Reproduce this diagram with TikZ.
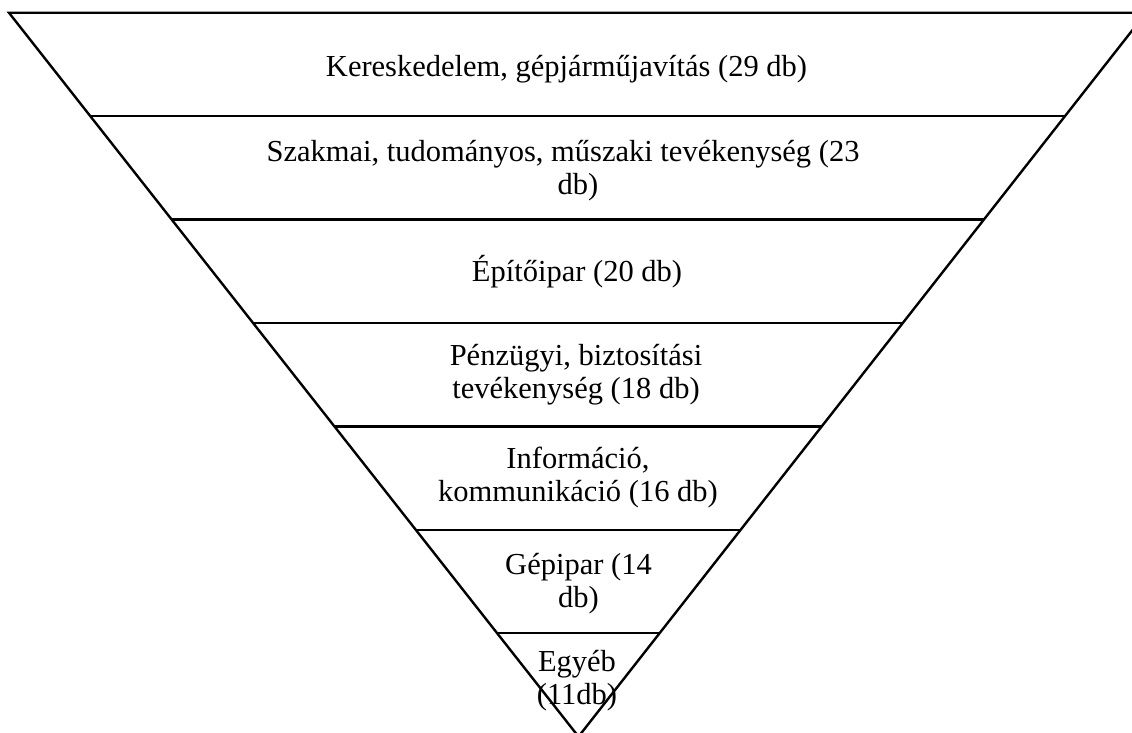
\documentclass[tikz,border=0pt]{standalone}
\usepackage{fontspec}
\setmainfont{Liberation Serif}
\usetikzlibrary{calc}
\begin{document}
\begin{tikzpicture}[x=1pt,y=-1pt,
  edge/.style={line width=2.4pt,black,line join=miter},
  lbl/.style={align=center,font=\fontsize{30.5}{33}\selectfont,inner sep=0pt}]
\useasboundingbox (0,0) rectangle (1132,733);
\clip (0,0) rectangle (1132,733);
\coordinate (L) at (9,12.8);
\coordinate (R) at (1146,12.8);
\coordinate (A) at (578.5,736.6);
\draw[edge] (L) -- (R) -- (A) -- cycle;
\foreach \k in {1,...,6}{
  \draw[edge] ($(L)!\k/7!(A)$) -- ($(R)!\k/7!(A)$);
}
\node[lbl] (t1) at (566.5,69) {Kereskedelem, gépjárműjavítás (29 db)};
\node[lbl] (t2) at (563,171) {Szakmai, tudományos, műszaki tevékenység (23\\\hspace*{30pt}db)};
\node[lbl] (t3) at (577,272) {Építőipar (20 db)};
\node[lbl] (t4) at (576,375) {Pénzügyi, biztosítási\\tevékenység (18 db)};
\node[lbl] (t5) at (578,478) {Információ,\\kommunikáció (16 db)};
\node[lbl] (t6) at (578.5,584) {Gépipar (14\\db)};
\node[lbl] (t7) at (577,681) {Egyéb\\(11db)};
\end{tikzpicture}
\end{document}
